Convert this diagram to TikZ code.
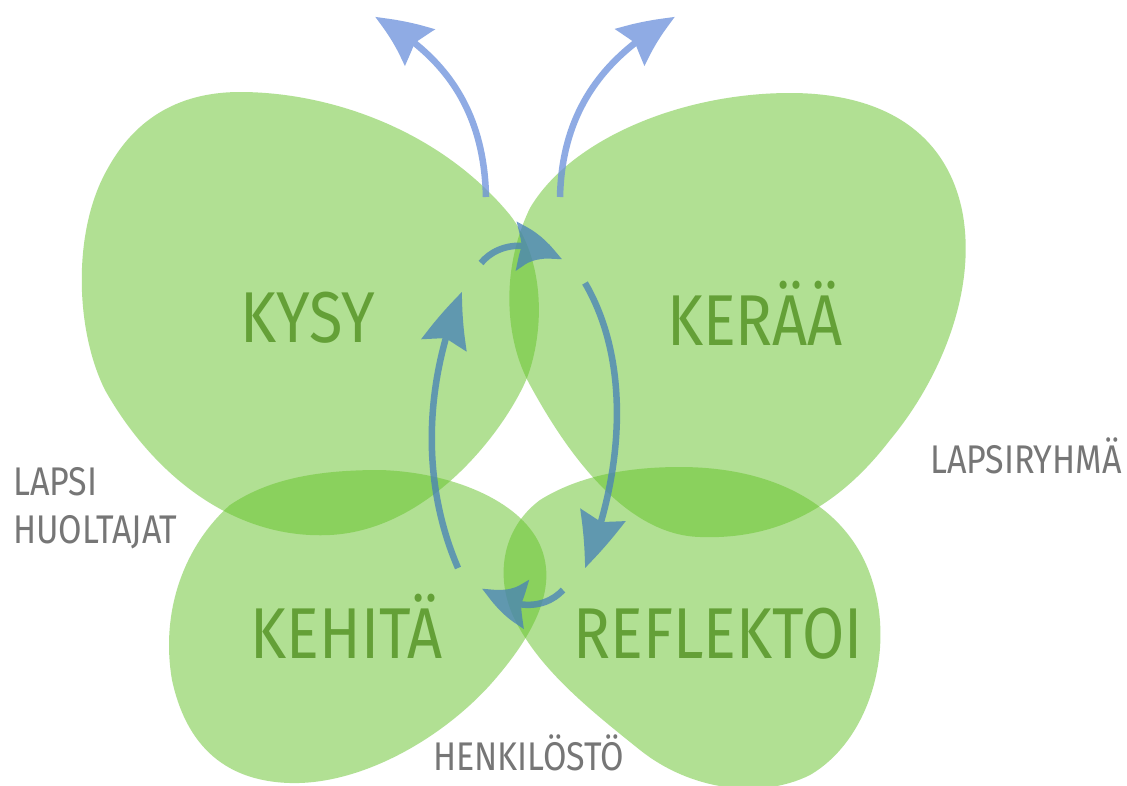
\documentclass[tikz,border=0pt]{standalone}
\usepackage{fontspec}
\setmainfont{Fira Sans}[FakeStretch=0.85]
\usetikzlibrary{arrows.meta,bending}
\definecolor{wing}{RGB}{101,195,41}
\definecolor{wordgreen}{RGB}{100,160,55}
\definecolor{labelgray}{RGB}{118,118,118}
\definecolor{outblue}{RGB}{106,143,219}
\definecolor{inblue}{RGB}{70,128,185}
\begin{document}
\begin{tikzpicture}[x=1pt,y=-1pt,
  wingfill/.style={fill=wing, fill opacity=0.5},
  word/.style={text=wordgreen, font=\fontsize{72}{80}\selectfont, inner sep=0pt, anchor=base},
  lbl/.style={text=labelgray, font=\fontsize{40}{48}\selectfont, inner sep=0pt, anchor=base west},
  arrowbase/.style={line width=6.5pt, -{Stealth[length=56pt,width=46pt,inset=7pt,bend]}},
  outarrow/.style={arrowbase, draw=outblue},
  inarrow/.style={arrowbase, draw=inblue}]
\useasboundingbox (0,0) rectangle (1127,785);
\fill[white] (0,0) rectangle (1127,785);
% wings
\fill[wingfill] (240,92) .. controls (330,92) and (440,130) .. (510,215)
  .. controls (545,260) and (545,330) .. (527,378)
  .. controls (505,430) and (430,530) .. (330,535)
  .. controls (230,540) and (150,470) .. (105,390)
  .. controls (75,330) and (72,230) .. (108,168)
  .. controls (140,110) and (190,92) .. (240,92) -- cycle;
\fill[wingfill] (790,93) .. controls (880,93) and (945,130) .. (962,210)
  .. controls (978,290) and (940,380) .. (890,440)
  .. controls (840,505) and (780,540) .. (700,537)
  .. controls (620,535) and (560,440) .. (530,385)
  .. controls (505,340) and (500,270) .. (530,208)
  .. controls (570,140) and (680,93) .. (790,93) -- cycle;
\fill[wingfill] (380,470) .. controls (450,472) and (520,500) .. (540,545)
  .. controls (560,590) and (530,640) .. (490,685)
  .. controls (440,740) and (360,785) .. (290,783)
  .. controls (220,781) and (185,740) .. (172,680)
  .. controls (160,610) and (185,545) .. (230,505)
  .. controls (270,478) and (320,470) .. (380,470) -- cycle;
\fill[wingfill] (680,467) .. controls (780,467) and (850,510) .. (872,580)
  .. controls (895,650) and (870,740) .. (810,775)
  .. controls (760,800) and (690,790) .. (640,750)
  .. controls (590,710) and (540,670) .. (515,620)
  .. controls (495,580) and (500,530) .. (540,500)
  .. controls (580,475) and (630,467) .. (680,467) -- cycle;
% words
\node[word] (kysy) at (308,342) {KYSY};
\node[word] (keraa) at (755,345) {KERÄÄ};
\node[word] (kehita) at (347,658) {KEHITÄ};
\node[word] (reflektoi) at (718,658) {REFLEKTOI};
% labels
\node[lbl] (lapsi) at (13,495) {LAPSI};
\node[lbl] (huoltajat) at (13,543) {HUOLTAJAT};
\node[lbl] (lapsiryhma) at (930,473) {LAPSIRYHMÄ};
\node[lbl] (henkilosto) at (433,770) {HENKILÖSTÖ};
% arrow end points
\coordinate (oL0) at (486,197); \coordinate (oL1) at (375,17);
\coordinate (oR0) at (560,197); \coordinate (oR1) at (675,17);
\coordinate (iL0) at (458,568); \coordinate (iL1) at (462,292);
\coordinate (iT0) at (481,263); \coordinate (iT1) at (562,260);
\coordinate (iR0) at (585,283); \coordinate (iR1) at (585,568);
\coordinate (iB0) at (563,590); \coordinate (iB1) at (482,588);
\begin{scope}[transparency group, opacity=0.75]
\draw[outarrow] (oL0) .. controls (484,110) and (445,55) .. (oL1);
\draw[outarrow] (oR0) .. controls (562,110) and (605,55) .. (oR1);
\draw[inarrow] (iL0) .. controls (420,480) and (425,380) .. (iL1);
\draw[inarrow] (iT0) .. controls (495,246) and (525,236) .. (iT1);
\draw[inarrow] (iR0) .. controls (630,360) and (625,470) .. (iR1);
\draw[inarrow] (iB0) .. controls (548,606) and (520,614) .. (iB1);
\end{scope}
\end{tikzpicture}
\end{document}
